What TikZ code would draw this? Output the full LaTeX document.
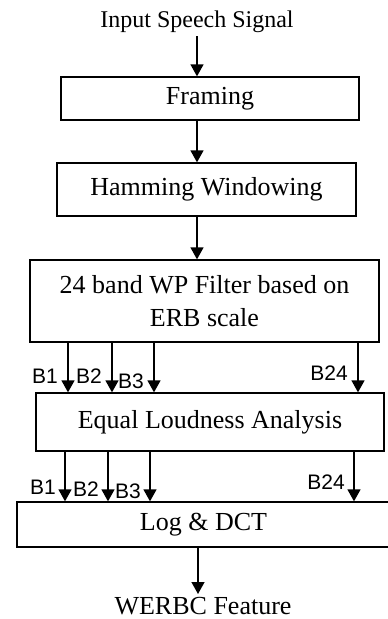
\documentclass[tikz,border=0pt]{standalone}
\usepackage{fontspec}
\setmainfont{Liberation Serif}
\newfontfamily\bandfont{Liberation Sans}
\usetikzlibrary{arrows.meta, positioning}

\begin{document}
\begin{tikzpicture}[x=1pt, y=-1pt,
  bloco/.style={draw, line width=1.3pt, inner sep=0pt, align=center, font=\fontsize{26}{33}\selectfont},
  rotulo/.style={inner sep=0pt},
  seta/.style={-{Triangle[length=12pt, width=13pt]}, line width=1.3pt},
  banda/.style={font=\bandfont\fontsize{21}{24}\selectfont, inner sep=0pt, anchor=east}]
\useasboundingbox (0,0) rectangle (388,619);

% --- BLOCOS DO PROCESSAMENTO ---
\node[rotulo, font=\fontsize{24}{28}\selectfont] (entrada) at (197,22) {Input Speech Signal};
\node[bloco, minimum width=298pt, minimum height=43pt] (framing) at (210,98.5) {Framing};
\node[bloco, minimum width=299pt, minimum height=53pt] (hamming) at (206.5,189.5) {Hamming Windowing};
\node[bloco, minimum width=349pt, minimum height=82pt] (filtro) at (204.5,301) {24 band WP Filter based on\\ERB scale};
\node[bloco, minimum width=348pt, minimum height=58pt] (loudness) at (210,422) {Equal Loudness Analysis};
\node[bloco, minimum width=373pt, minimum height=45pt] (logdct) at (203.5,524.5) {Log \& DCT};
\node[rotulo, font=\fontsize{26}{30}\selectfont] (saida) at (203,606) {WERBC Feature};

% --- SETAS PRINCIPAIS ---
\coordinate (eixo) at (197,0);
\draw[seta] ([yshift=-3pt]entrada.south -| eixo) -- (framing.north -| eixo);
\draw[seta] (framing.south -| eixo) -- (hamming.north -| eixo);
\draw[seta] (hamming.south -| eixo) -- (filtro.north -| eixo);
\coordinate (eixo2) at (198,0);
\draw[seta] (logdct.south -| eixo2) -- ([yshift=3pt]saida.north -| eixo2);

% --- BANDAS B1 ... B24 ---
\foreach \xb/\yb/\nome in {68/376/B1, 112/376/B2, 154/381/B3, 358/373/B24}{
  \coordinate (b) at (\xb,0);
  \draw[seta] (filtro.south -| b) -- (loudness.north -| b);
  \node[banda] (f\nome) at (\xb-10,\yb) {\nome};
}
\foreach \xb/\yb/\nome in {65/487/B1, 108/489/B2, 150/491/B3, 354/482/B24}{
  \coordinate (b) at (\xb,0);
  \draw[seta] (loudness.south -| b) -- (logdct.north -| b);
  \node[banda] (l\nome) at (\xb-9,\yb) {\nome};
}
\end{tikzpicture}
\end{document}
